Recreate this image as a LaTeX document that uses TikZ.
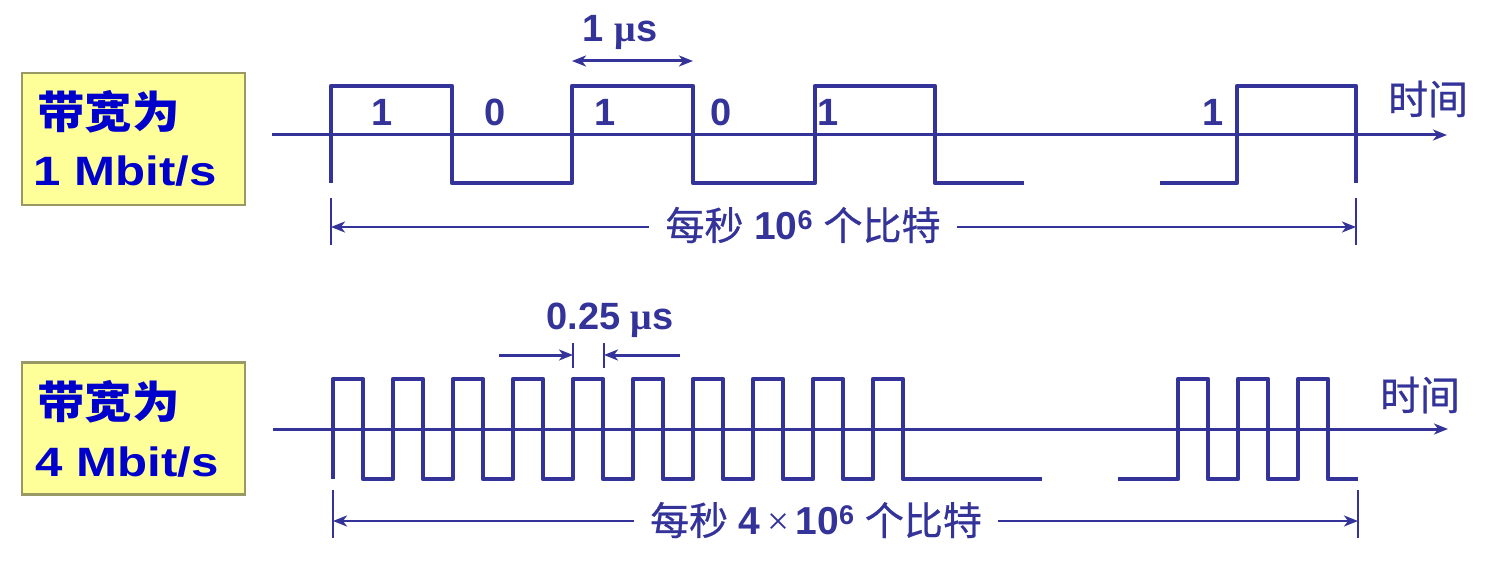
\documentclass[tikz,border=0pt]{standalone}
\usepackage{fontspec}
\setmainfont{Liberation Sans}
\newfontfamily\boxlat{Liberation Sans}[FakeStretch=1.2]
\newfontfamily\boxcjk{Noto Sans CJK SC}[FakeStretch=1.08]
\newfontfamily\cjk{Noto Sans CJK SC}[FakeBold=0.6]
\newfontfamily\serifmu{Liberation Serif}
\usetikzlibrary{arrows.meta}
\definecolor{wave}{RGB}{51,51,153}
\definecolor{boxfill}{RGB}{255,255,153}
\definecolor{boxline}{RGB}{153,153,102}
\definecolor{boxtext}{RGB}{0,0,204}
\begin{document}
\begin{tikzpicture}[x=0.5pt,y=-0.5pt,
  wavestyle/.style={draw=wave, line width=2.3pt, line join=round},
  axisstyle/.style={draw=wave, line width=1.5pt, -{Stealth[length=7pt,width=5.5pt,inset=2pt]}},
  spanline/.style={draw=wave, line width=1.3pt},
  spanarrow/.style={draw=wave, line width=1.4pt, -{Stealth[length=7pt,width=5.5pt,inset=2pt]}},
  dimarrow/.style={draw=wave, line width=1.5pt, -{Stealth[length=7pt,width=5.5pt,inset=2pt]}},
  dimboth/.style={draw=wave, line width=1.5pt, {Stealth[length=7pt,width=5.5pt,inset=2pt]}-{Stealth[length=7pt,width=5.5pt,inset=2pt]}},
  bandbox/.style={draw=boxline, line width=1.1pt, fill=boxfill, minimum width=111.5pt, minimum height=66pt, inner sep=0pt},
  boxcn/.style={text=boxtext, inner sep=0pt, anchor=base west, font=\boxcjk\bfseries\fontsize{22pt}{24pt}\selectfont},
  boxen/.style={text=boxtext, inner sep=0pt, anchor=base west, font=\boxlat\bfseries\fontsize{20.5pt}{22pt}\selectfont},
  bitlabel/.style={text=wave, inner sep=0pt, anchor=base, font=\bfseries\fontsize{19pt}{22pt}\selectfont},
  timelabel/.style={text=wave, inner sep=0pt, font=\cjk\fontsize{20pt}{22pt}\selectfont},
  spanlabel/.style={text=wave, inner xsep=8pt, inner ysep=0pt, font=\fontsize{19.5pt}{22pt}\selectfont}
]
\useasboundingbox (0,0) rectangle (1503,577);

% ---------- top: 1 Mbit/s ----------
\node[bandbox] (box1) at (133.5,139) {};
\node[boxcn] (box1a) at (37,129) {带宽为};
\node[boxen] (box1b) at (33,186) {1 Mbit/s};

\coordinate (ax1s) at (272,135);
\coordinate (ax1e) at (1447,135);
\draw[axisstyle] (ax1s) -- (ax1e);
\node[timelabel] (time1) at (1428,99) {时间};

\draw[wavestyle] (331,183) -- (331,86) -- (452,86) -- (452,183) -- (572,183) -- (572,86)
  -- (693,86) -- (693,183) -- (815,183) -- (815,86) -- (935,86) -- (935,183) -- (1024,183);
\draw[wavestyle] (1160,183) -- (1237,183) -- (1237,86) -- (1356,86) -- (1356,183);

\node[bitlabel] (b1) at (382,126) {1};
\node[bitlabel] (b2) at (495,126) {0};
\node[bitlabel] (b3) at (605,126) {1};
\node[bitlabel] (b4) at (721,126) {0};
\node[bitlabel] (b5) at (828,126) {1};
\node[bitlabel] (b6) at (1213,126) {1};

\coordinate (us1L) at (572,61);
\coordinate (us1R) at (693,61);
\draw[dimboth] (us1L) -- (us1R);
\node[bitlabel] (us1) at (620,42) {1 {\serifmu\bfseries μ}s};

\coordinate (t1L) at (331,227);
\coordinate (t1R) at (1356,227);
\draw[spanline] (331,198) -- (331,245);
\draw[spanline] (1356,198) -- (1356,245);
\node[spanlabel] (span1) at (803,225) {{\cjk 每秒} \textbf{10\raisebox{5pt}{\fontsize{13.5pt}{13.5pt}\selectfont 6}} {\cjk 个比特}};
\draw[spanarrow] (span1.west |- t1L) -- (t1L);
\draw[spanarrow] (span1.east |- t1R) -- (t1R);

% ---------- bottom: 4 Mbit/s ----------
\node[bandbox] (box2) at (133.5,428.5) {};
\node[boxcn] (box2a) at (37,418) {带宽为};
\node[boxen] (box2b) at (35,476) {4 Mbit/s};

\coordinate (ax2s) at (273,429);
\coordinate (ax2e) at (1448,429);
\draw[axisstyle] (ax2s) -- (ax2e);
\node[timelabel] (time2) at (1420,395) {时间};

\draw[wavestyle] (333,479)
  \foreach \k in {0,...,8} { -- ({333+60*\k},379) -- ({363+60*\k},379) -- ({363+60*\k},479) -- ({393+60*\k},479) }
  -- (873,379) -- (903,379) -- (903,479) -- (1042,479);
\draw[wavestyle] (1118,479)
  \foreach \k in {0,1,2} { -- ({1178+60*\k},479) -- ({1178+60*\k},379) -- ({1208+60*\k},379) -- ({1208+60*\k},479) }
  -- (1358,479);

\coordinate (q1) at (499,355);
\coordinate (q2) at (573,355);
\coordinate (q3) at (604,355);
\coordinate (q4) at (680,355);
\draw[spanline] (573,343) -- (573,368);
\draw[spanline] (604,343) -- (604,368);
\draw[dimarrow] (q1) -- (q2);
\draw[dimarrow] (q4) -- (q3);
\node[bitlabel] (us2) at (610,329) {0.25 {\serifmu\bfseries μ}s};

\coordinate (t2L) at (333,521);
\coordinate (t2R) at (1358,521);
\draw[spanline] (333,490) -- (333,538);
\draw[spanline] (1358,490) -- (1358,538);
\node[spanlabel] (span2) at (816,520) {{\cjk 每秒} \textbf{4}\,{\serifmu ×}\,\textbf{10\raisebox{5pt}{\fontsize{13.5pt}{13.5pt}\selectfont 6}} {\cjk 个比特}};
\draw[spanarrow] (span2.west |- t2L) -- (t2L);
\draw[spanarrow] (span2.east |- t2R) -- (t2R);
\end{tikzpicture}
\end{document}
